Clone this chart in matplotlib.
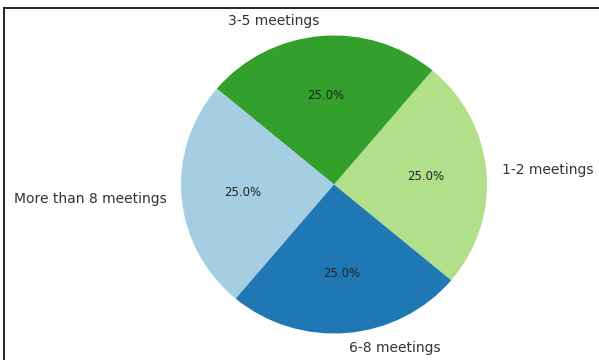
import matplotlib
matplotlib.use("Agg")
import matplotlib.pyplot as plt
from matplotlib.lines import Line2D

labels = ["1-2 meetings", "3-5 meetings", "More than 8 meetings", "6-8 meetings"]
values = [25, 25, 25, 25]
colors = ["#b2df8a", "#33a02c", "#a6cee3", "#1f78b4"]

W, H = 599, 360
fig = plt.figure(figsize=(W / 100, H / 100), dpi=100)
cx, cy, rx, ry = 334, H - 184.5, 153, 149
ax = fig.add_axes([(cx - rx) / W, (cy - ry) / H, 2 * rx / W, 2 * ry / H])
wedges, texts, autotexts = ax.pie(values, labels=labels, colors=colors,
                                  autopct="%1.1f%%", startangle=-40,
                                  textprops={"fontsize": 10})
for t in texts:
    t.set_color("#333333")
for t in autotexts:
    t.set_color("#222222")
    t.set_fontsize(8.5)
ax.set_aspect("auto")
ax.set_xlim(-1, 1)
ax.set_ylim(-1, 1)

# screenshot border (top and left)
fig.add_artist(Line2D([4 / W, 1], [1 - 8 / H, 1 - 8 / H], color="black", lw=1.2,
                      transform=fig.transFigure))
fig.add_artist(Line2D([4 / W, 4 / W], [0, 1 - 8 / H], color="black", lw=1.2,
                      transform=fig.transFigure))

fig.savefig("out.png", dpi=100)
